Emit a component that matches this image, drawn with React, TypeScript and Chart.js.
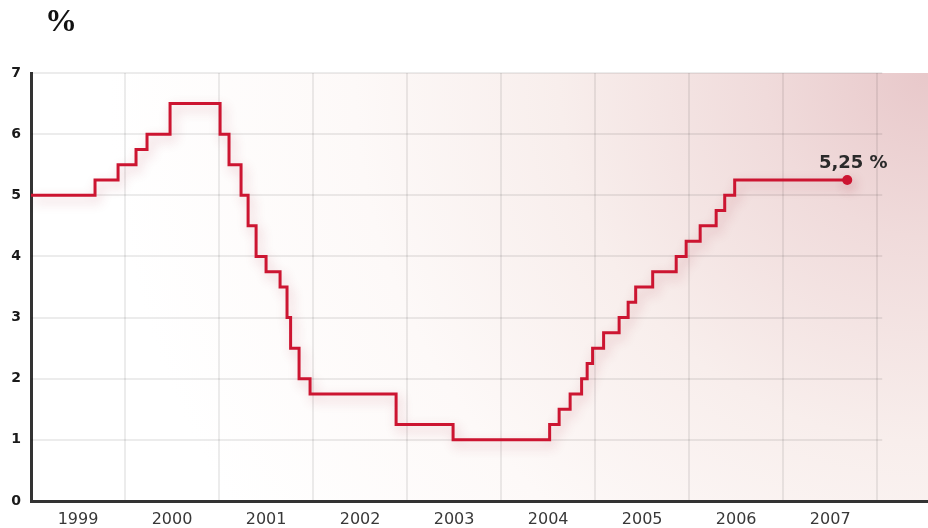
import React, { useEffect, useRef } from 'react';
import { Chart, registerables } from 'chart.js';

Chart.register(...registerables);

// Dates (decimal years) at which the rate changed, and the new rate (%)
const changeDates = [
  1999.0, 1999.681, 1999.926, 2000.117, 2000.234, 2000.479,
  2001.011, 2001.106, 2001.234, 2001.309, 2001.394, 2001.5,
  2001.649, 2001.723, 2001.761, 2001.851, 2001.968,
  2002.883, 2003.489,
  2004.516, 2004.617, 2004.734, 2004.856, 2004.915, 2004.973,
  2005.09, 2005.255, 2005.351, 2005.431, 2005.612, 2005.862,
  2005.968, 2006.117, 2006.287, 2006.378, 2006.484, 2007.681,
];
const rates = [
  5.0, 5.25, 5.5, 5.75, 6.0, 6.5,
  6.0, 5.5, 5.0, 4.5, 4.0, 3.75,
  3.5, 3.0, 2.5, 2.0, 1.75,
  1.25, 1.0,
  1.25, 1.5, 1.75, 2.0, 2.25, 2.5,
  2.75, 3.0, 3.25, 3.5, 3.75, 4.0,
  4.25, 4.5, 4.75, 5.0, 5.25, 5.25,
];
const yearLabels = ['1999', '2000', '2001', '2002', '2003', '2004', '2005', '2006', '2007'];
const firstYear = 1999;
const gridEndYear = 2008;
const xMax = 2008.54;
const yTicks = [0, 1, 2, 3, 4, 5, 6, 7];
const lastLabel = '5,25 %';
const unitLabel = '%';

const RED = '#cc1531';

const decor = {
  id: 'decor',
  beforeDraw(chart: any) {
    const { ctx, chartArea: a } = chart;
    ctx.save();
    const g = ctx.createRadialGradient(a.right, a.top, 0, a.right, a.top, 820);
    g.addColorStop(0, '#e8c8ca');
    g.addColorStop(0.2, '#f0dbdb');
    g.addColorStop(0.45, '#f8eeec');
    g.addColorStop(0.7, '#fdf9f8');
    g.addColorStop(1, '#ffffff');
    ctx.fillStyle = g;
    ctx.fillRect(a.left, a.top, a.right - a.left, a.bottom - a.top);
    ctx.fillStyle = '#111';
    ctx.font = 'bold 32px "Liberation Serif"';
    ctx.textAlign = 'left';
    ctx.textBaseline = 'alphabetic';
    ctx.fillText(unitLabel, 45, 31);
    ctx.restore();
  },
  beforeDatasetsDraw(chart: any) {
    const { ctx, chartArea: a, scales } = chart;
    const x = scales.x;
    const y = scales.y;
    ctx.save();
    ctx.strokeStyle = 'rgba(0,0,0,0.075)';
    ctx.lineWidth = 2;
    const xEnd = x.getPixelForValue(gridEndYear) + 5;
    for (const v of yTicks) {
      if (v === 0) continue;
      const py = Math.round(y.getPixelForValue(v));
      ctx.beginPath();
      ctx.moveTo(a.left, py);
      ctx.lineTo(xEnd, py);
      ctx.stroke();
    }
    ctx.restore();
    ctx.save();
    ctx.shadowColor = 'rgba(170, 40, 60, 0.3)';
    ctx.shadowBlur = 12;
    ctx.shadowOffsetX = 3;
    ctx.shadowOffsetY = 5;
  },
  afterDatasetsDraw(chart: any) {
    const { ctx } = chart;
    ctx.restore();
    const meta = chart.getDatasetMeta(0);
    const pt = meta.data[meta.data.length - 1];
    ctx.save();
    ctx.fillStyle = '#2a2a2a';
    ctx.font = 'bold 18px "DejaVu Sans"';
    ctx.textAlign = 'center';
    ctx.textBaseline = 'middle';
    ctx.fillText(lastLabel, pt.x + 6, pt.y - 17);
    ctx.restore();
  },
};

export default function App() {
  const ref = useRef<HTMLCanvasElement | null>(null);

  useEffect(() => {
    document.body.style.margin = '0';
    const canvas = ref.current;
    if (!canvas) return;
    const points = changeDates.map((d, i) => ({ x: d, y: rates[i] }));
    const tickValues: number[] = [];
    for (let yr = firstYear; yr <= gridEndYear; yr++) {
      tickValues.push(yr);
      if (yr < gridEndYear) tickValues.push(yr + 0.5);
    }
    const chart = new Chart(canvas, {
      type: 'line',
      data: {
        datasets: [
          {
            data: points,
            borderColor: RED,
            backgroundColor: RED,
            borderWidth: 3,
            stepped: true,
            fill: false,
            pointRadius: (c: any) => (c.dataIndex === rates.length - 1 ? 5 : 0),
            pointHoverRadius: 0,
            pointBackgroundColor: RED,
            pointBorderWidth: 0,
          },
        ],
      },
      options: {
        animation: false,
        responsive: true,
        maintainAspectRatio: false,
        layout: { autoPadding: false, padding: { top: 73, right: 0, left: 0, bottom: 0 } },
        plugins: {
          legend: { display: false },
          tooltip: { enabled: false },
          title: { display: false },
        },
        scales: {
          x: {
            type: 'linear',
            min: firstYear,
            max: xMax,
            afterBuildTicks: (s: any) => {
              s.ticks = tickValues.map((v) => ({ value: v }));
            },
            afterFit: (s: any) => {
              s.height = 27;
            },
            grid: {
              drawTicks: false,
              lineWidth: 2,
              color: (c: any) =>
                c.tick && Math.abs(c.tick.value % 1) < 1e-6 ? 'rgba(0,0,0,0.075)' : 'rgba(0,0,0,0)',
            },
            border: { display: true, color: '#333', width: 3 },
            ticks: {
              autoSkip: false,
              maxRotation: 0,
              padding: 9,
              color: '#383838',
              font: { family: '"DejaVu Sans"', size: 16 },
              callback: (v: any) => {
                const n = Number(v);
                if (Math.abs((n % 1) - 0.5) < 1e-6) {
                  const idx = Math.floor(n) - firstYear;
                  return yearLabels[idx] ?? '';
                }
                return '';
              },
            },
          },
          y: {
            min: 0,
            max: 7,
            afterBuildTicks: (s: any) => {
              s.ticks = yTicks.map((v) => ({ value: v }));
            },
            afterFit: (s: any) => {
              s.width = 31;
            },
            grid: { display: false, drawTicks: false },
            border: { display: true, color: '#333', width: 3 },
            ticks: {
              padding: 10,
              color: '#1a1a1a',
              font: { family: '"DejaVu Sans"', size: 14, weight: 'bold' },
              callback: (v: any) => String(v),
            },
          },
        },
      },
      plugins: [decor],
    });
    return () => chart.destroy();
  }, []);

  return (
    <div style={{ width: 928, height: 528, position: 'relative' }}>
      <canvas ref={ref} />
    </div>
  );
}
